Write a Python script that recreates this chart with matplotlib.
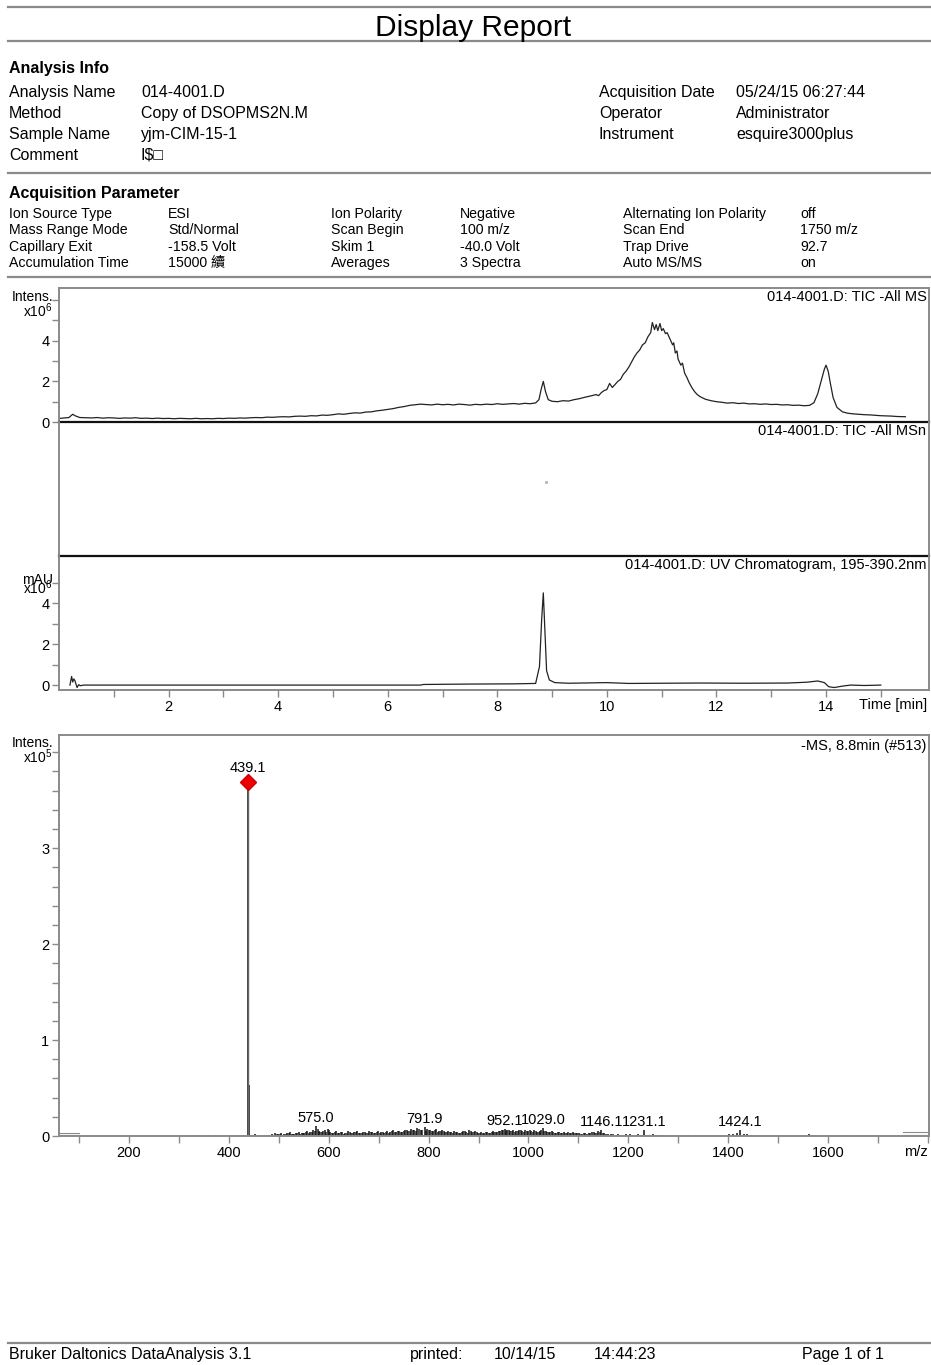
import numpy as np
import matplotlib
matplotlib.use("Agg")
import matplotlib.pyplot as plt
from matplotlib.ticker import MultipleLocator, FixedLocator

plt.rcParams['font.family'] = ['Liberation Sans', 'Noto Sans CJK SC', 'DejaVu Sans']
plt.rcParams['mathtext.fontset'] = 'custom'
plt.rcParams['mathtext.rm'] = 'Liberation Sans'
plt.rcParams['mathtext.default'] = 'regular'

W, H = 931, 1365
GRAY = '#8a8a8a'

# ---- report header values ----
info_left = [("Analysis Name", "014-4001.D"), ("Method", "Copy of DSOPMS2N.M"),
             ("Sample Name", "yjm-CIM-15-1"), ("Comment", "I$\u25a1")]
info_right = [("Acquisition Date", "05/24/15 06:27:44"), ("Operator", "Administrator"),
              ("Instrument", "esquire3000plus")]
acq_params = [
    ("Ion Source Type", "ESI", "Ion Polarity", "Negative", "Alternating Ion Polarity", "off"),
    ("Mass Range Mode", "Std/Normal", "Scan Begin", "100 m/z", "Scan End", "1750 m/z"),
    ("Capillary Exit", "-158.5 Volt", "Skim 1", "-40.0 Volt", "Trap Drive", "92.7"),
    ("Accumulation Time", "15000 \u7e8c", "Averages", "3 Spectra", "Auto MS/MS", "on"),
]

# ---- TIC -All MS (time in min, intensity x1e6) ----
tic_time = [0.02, 0.1, 0.18, 0.25, 0.3, 0.38, 0.5, 0.6, 0.7, 0.8, 0.9, 1.0, 1.1, 1.2, 1.3, 1.4,
            1.5, 1.6, 1.7, 1.8, 1.9, 2.0, 2.1, 2.2, 2.3, 2.4, 2.5, 2.6, 2.7, 2.8, 2.9, 3.0,
            3.1, 3.2, 3.3, 3.4, 3.5, 3.6, 3.7, 3.8, 3.9, 4.0, 4.1, 4.2, 4.3, 4.4, 4.5, 4.6,
            4.7, 4.8, 4.9, 5.0, 5.1, 5.2, 5.3, 5.4, 5.5, 5.6, 5.7, 5.8, 5.9, 6.0, 6.1, 6.2,
            6.3, 6.4, 6.5, 6.6, 6.7, 6.8, 6.9, 7.0, 7.1, 7.2, 7.3, 7.4, 7.5, 7.6, 7.7, 7.8,
            7.9, 8.0, 8.1, 8.2, 8.3, 8.4, 8.5, 8.6, 8.7, 8.76, 8.8, 8.84, 8.88, 8.93, 9.0,
            9.1, 9.2, 9.3, 9.4, 9.5, 9.6, 9.7, 9.8, 9.85, 9.9, 9.95, 10.0, 10.05, 10.1, 10.15,
            10.2, 10.25, 10.3, 10.35, 10.4, 10.45, 10.5, 10.55, 10.6, 10.65, 10.7, 10.75,
            10.8, 10.83, 10.87, 10.9, 10.93, 10.97, 11.0, 11.03, 11.07, 11.1, 11.15, 11.2,
            11.22, 11.25, 11.28, 11.3, 11.35, 11.38, 11.42, 11.46, 11.5, 11.55, 11.6, 11.65,
            11.7, 11.8, 11.9, 12.0, 12.1, 12.2, 12.3, 12.4, 12.5, 12.6, 12.7, 12.8, 12.9,
            13.0, 13.1, 13.2, 13.3, 13.4, 13.5, 13.6, 13.7, 13.78, 13.85, 13.92, 13.97, 14.0,
            14.04, 14.08, 14.13, 14.2, 14.3, 14.4, 14.5, 14.6, 14.7, 14.8, 14.9, 15.0, 15.1,
            15.2, 15.3, 15.45]
tic_int = [0.18, 0.2, 0.22, 0.38, 0.3, 0.22, 0.21, 0.2, 0.22, 0.19, 0.21, 0.2, 0.18, 0.2,
           0.19, 0.21, 0.18, 0.19, 0.17, 0.19, 0.17, 0.18, 0.16, 0.18, 0.17, 0.16, 0.18, 0.16,
           0.17, 0.16, 0.18, 0.17, 0.19, 0.18, 0.2, 0.19, 0.21, 0.22, 0.21, 0.24, 0.23, 0.25,
           0.26, 0.25, 0.28, 0.29, 0.28, 0.31, 0.3, 0.34, 0.33, 0.36, 0.4, 0.38, 0.42, 0.45,
           0.44, 0.49, 0.5, 0.55, 0.58, 0.62, 0.66, 0.72, 0.76, 0.82, 0.85, 0.88, 0.86, 0.84,
           0.88, 0.85, 0.87, 0.84, 0.88, 0.86, 0.83, 0.87, 0.85, 0.88, 0.86, 0.9, 0.87, 0.89,
           0.91, 0.88, 0.92, 0.9, 0.94, 1.1, 1.6, 2.0, 1.5, 1.1, 1.02, 1.0, 1.05, 1.03, 1.1,
           1.15, 1.22, 1.28, 1.35, 1.3, 1.45, 1.55, 1.6, 1.9, 1.7, 1.85, 2.0, 2.1, 2.35, 2.5,
           2.7, 2.95, 3.2, 3.4, 3.55, 3.8, 3.9, 4.2, 4.4, 4.9, 4.55, 4.8, 4.5, 4.85, 4.5, 4.6,
           4.35, 4.4, 4.1, 3.8, 3.9, 3.4, 3.5, 3.1, 2.8, 2.9, 2.4, 2.2, 1.95, 1.7, 1.5, 1.35,
           1.25, 1.12, 1.05, 1.0, 0.97, 0.93, 0.95, 0.91, 0.93, 0.89, 0.9, 0.87, 0.89, 0.86,
           0.87, 0.84, 0.85, 0.82, 0.83, 0.8, 0.82, 0.95, 1.4, 2.1, 2.6, 2.8, 2.5, 1.9, 1.2,
           0.72, 0.5, 0.43, 0.4, 0.38, 0.36, 0.35, 0.33, 0.31, 0.3, 0.29, 0.27, 0.26]

# ---- TIC -All MSn (one stray point) ----
msn_time = [8.89]
msn_int = [0.55]

# ---- UV chromatogram 195-390.2 nm (mAU x1e6) ----
uv_time = [0.2, 0.23, 0.25, 0.27, 0.29, 0.31, 0.33, 0.36, 0.39, 0.45, 3.0, 6.6, 6.65, 7.5, 8.3,
           8.7, 8.77, 8.81, 8.84, 8.87, 8.9, 8.95, 9.05, 9.3, 10.0, 10.4, 11.0, 11.7, 12.5,
           13.3, 13.65, 13.85, 13.97, 14.05, 14.15, 14.3, 14.45, 14.7, 15.0]
uv_int = [0.0, 0.42, 0.15, 0.3, 0.22, 0.05, -0.12, 0.02, -0.03, 0.0, 0.0, 0.0, 0.03, 0.05,
          0.06, 0.08, 0.9, 3.2, 4.5, 2.6, 0.7, 0.25, 0.12, 0.09, 0.12, 0.08, 0.09, 0.1, 0.09,
          0.1, 0.14, 0.2, 0.12, -0.08, -0.12, -0.05, 0.0, -0.02, 0.0]

# ---- MS spectrum -MS, 8.8 min (#513): labelled and stronger sticks ----
ms_mz = [341, 358, 372, 391, 402, 418, 431, 439.1, 440.1, 446, 452, 461, 470, 478,
         486, 493, 499, 505, 511, 517, 523, 529, 534, 540, 546, 551, 557, 563, 569, 575.0,
         580, 586, 592, 598, 603, 609, 615, 621, 627, 633, 639, 645, 651, 657, 663, 669,
         675, 681, 687, 693, 699, 705, 711, 717, 723, 729, 735, 741, 747, 753, 759, 765,
         771, 777, 784, 791.9, 797, 803, 809, 815, 821, 827, 833, 839, 845, 851, 857, 863,
         869, 875, 881, 887, 893, 899, 905, 911, 917, 923, 929, 935, 941, 947, 952.1, 958,
         964, 970, 976, 982, 988, 994, 1000, 1006, 1012, 1018, 1023, 1029.0, 1035, 1041,
         1047, 1053, 1059, 1065, 1071, 1077, 1083, 1089, 1095, 1101, 1108, 1114, 1121,
         1127, 1134, 1140, 1146.1, 1152, 1159, 1166, 1173, 1180, 1188, 1196, 1204, 1212,
         1220, 1231.1, 1240, 1249, 1258, 1266, 1281, 1302, 1311, 1320, 1334, 1347, 1365,
         1378, 1390, 1401, 1410, 1417, 1424.1, 1431, 1438, 1446, 1455, 1470, 1483, 1503,
         1528, 1548, 1562, 1571, 1591, 1608, 1630, 1665, 1683, 1700, 1720]
ms_int = [1000, 800, 1000, 800, 1200, 800, 1000, 369000, 53000, 1500, 2000, 1000, 1500, 1000,
          2000, 3000, 2500, 3500, 2000, 3000, 4000, 2500, 3000, 4500, 3000, 3500, 5000, 4000,
          6000, 10000, 5000, 4000, 6000, 7500, 4000, 3500, 5000, 3000, 4000, 3000, 5000,
          3500, 4000, 5500, 3000, 4000, 3500, 5000, 4000, 3000, 5000, 4000, 3500, 5000,
          4500, 6000, 4000, 5500, 4000, 6000, 5000, 7000, 6000, 8000, 6500, 9000, 7000,
          6000, 5000, 7000, 5500, 6500, 4000, 5000, 4000, 5500, 4000, 3500, 5000, 4000,
          6000, 4500, 5000, 3500, 4000, 3000, 4500, 3500, 5000, 4000, 5500, 6000, 7500,
          6500, 5000, 6000, 5000, 6500, 5000, 6000, 5000, 5500, 6000, 4500, 5000, 8000,
          5000, 4500, 5000, 3500, 4000, 3000, 4500, 3500, 3000, 4000, 3000, 3500, 2500,
          3000, 3500, 4000, 3000, 5000, 6000, 3000, 2500, 2000, 1500, 2000, 1500, 2500,
          2000, 1500, 2000, 6000, 1500, 2000, 1500, 1000, 1000, 1500, 1200, 1000, 1500,
          1000, 1500, 1000, 1500, 2000, 2500, 3000, 6000, 2500, 2000, 1500, 1000, 800, 1500,
          800, 1000, 800, 2500, 1000, 800, 1000, 800, 800, 1000, 1500, 800]

# ---- weaker sticks between the ones above ----
ms_mz_weak = [489, 496, 502, 508, 514, 520, 526, 531, 537, 543, 549, 554, 560, 566, 572, 578,
              583, 589, 595, 601, 606, 612, 618, 624, 630, 636, 642, 648, 654, 660, 666, 672,
              678, 684, 690, 696, 702, 708, 714, 720, 726, 732, 738, 744, 750, 756, 762, 768,
              774, 780, 787, 794, 800, 806, 812, 818, 824, 830, 836, 842, 848, 854, 860, 866,
              872, 878, 884, 890, 896, 902, 908, 914, 920, 926, 932, 938, 944, 950, 955, 961,
              967, 973, 979, 985, 991, 997, 1003, 1009, 1015, 1021, 1026, 1032, 1038, 1044,
              1050, 1056, 1062, 1068, 1074, 1080, 1086, 1092, 1098, 1104, 1111, 1117, 1124,
              1131, 1137, 1143, 1149, 1156, 1162, 1169, 1176, 1184, 1192, 1200, 1208, 1216,
              1226, 1235, 1244, 1253, 1262]
ms_int_weak = [1500, 2000, 2500, 1500, 2000, 3000, 2000, 2500, 3500, 2000, 3000, 4000, 3000,
               4500, 5000, 7000, 4000, 5000, 4500, 6000, 3000, 4000, 3500, 4000, 2500, 3500,
               4000, 3000, 4500, 3500, 3000, 4500, 3000, 4000, 3500, 4500, 3000, 4000, 4500,
               3500, 5000, 4000, 5000, 4500, 5000, 6000, 5000, 6500, 5500, 7500, 6000, 5000,
               6500, 5500, 6000, 4500, 5000, 5500, 4000, 4500, 3500, 4500, 3000, 4000, 5000,
               3500, 5000, 4000, 4500, 3000, 3500, 4000, 3000, 4000, 4500, 4000, 5000, 6500,
               5000, 6000, 5500, 4500, 5500, 6000, 4500, 5500, 6000, 4500, 5000, 4000, 6000,
               5500, 4000, 4500, 4000, 3500, 4000, 3000, 3500, 4000, 3000, 3500, 3000, 2500,
               3000, 2500, 3000, 4000, 3500, 4000, 3000, 2000, 1500, 2000, 1500, 1000, 1500,
               1000, 1500, 1000, 1500, 1500, 1000, 1500, 1000]

ms_labels = [439.1, 575.0, 791.9, 952.1, 1029.0, 1146.1, 1231.1, 1424.1]
scan_range = [100, 1750]


def px_box(left, top, right, bottom):
    return [left / W, 1 - bottom / H, (right - left) / W, (bottom - top) / H]


def fig_text(x, y, s, fontsize=11.5, **kw):
    # y is the middle of the capitals; place on the baseline so rows line up
    base = y + 0.358 * fontsize * 100 / 72
    fig.text(x / W, 1 - base / H, s, va='baseline', fontsize=fontsize, **kw)


def hline(y, x0=8, x1=931, color=GRAY, lw=1.6):
    fig.add_artist(plt.Line2D([x0 / W, x1 / W], [1 - y / H, 1 - y / H], color=color, lw=lw))


def style_axes(ax):
    for sp in ax.spines.values():
        sp.set_color(GRAY)
        sp.set_linewidth(1.4)
    ax.tick_params(which='both', direction='out', color=GRAY, labelsize=10.5,
                   labelcolor='black', width=1.0)
    ax.tick_params(which='major', length=5, pad=2)
    ax.tick_params(which='minor', length=5)


fig = plt.figure(figsize=(W / 100, H / 100), dpi=100)

# header
hline(7)
fig_text(473, 25, "Display Report", fontsize=21.5, ha='center')
hline(41)
fig_text(9, 67, "Analysis Info", fontweight='bold')
for i, (k, v) in enumerate(info_left):
    y = 91 + i * 21
    fig_text(9, y, k)
    fig_text(141, y, v)
for i, (k, v) in enumerate(info_right):
    y = 91 + i * 21
    fig_text(599, y, k)
    fig_text(736, y, v)
hline(173)
fig_text(9, 192, "Acquisition Parameter", fontweight='bold')
col_x = [9, 168, 331, 460, 623, 800]
for i, row in enumerate(acq_params):
    y = 213 + i * 16.3
    for cx, s in zip(col_x, row):
        fig_text(cx, y, s, fontsize=10.2)
hline(277)

# chromatogram panels
ax_tic = fig.add_axes(px_box(59, 288, 929, 422))
ax_msn = fig.add_axes(px_box(59, 422, 929, 556), sharex=ax_tic)
ax_uv = fig.add_axes(px_box(59, 556, 929, 690), sharex=ax_tic)
for ax in (ax_tic, ax_msn, ax_uv):
    style_axes(ax)
    ax.set_facecolor('none')

ax_tic.plot(tic_time, tic_int, color='#222222', lw=0.9)
ax_tic.set_xlim(0, 15.88)
ax_tic.set_ylim(0, 6.6)
ax_tic.yaxis.set_major_locator(FixedLocator([0, 2, 4]))
ax_tic.yaxis.set_minor_locator(FixedLocator([1, 3, 5, 6]))
ax_tic.spines['bottom'].set_color('#111111')
ax_tic.spines['bottom'].set_linewidth(1.6)
ax_tic.tick_params(axis='x', which='both', bottom=False, labelbottom=False)
ax_tic.text(0.997, 0.985, "014-4001.D: TIC -All MS", transform=ax_tic.transAxes,
            ha='right', va='top', fontsize=10.5)

ax_msn.plot(msn_time, msn_int, 's', color='#bbbbbb', ms=1.2)
ax_msn.set_ylim(0, 1)
ax_msn.set_yticks([])
ax_msn.spines['top'].set_visible(False)
ax_msn.spines['bottom'].set_color('#111111')
ax_msn.spines['bottom'].set_linewidth(1.6)
ax_msn.tick_params(axis='x', which='both', bottom=False, labelbottom=False)
ax_msn.text(0.997, 0.985, "014-4001.D: TIC -All MSn", transform=ax_msn.transAxes,
            ha='right', va='top', fontsize=10.5)

ax_uv.plot(uv_time, uv_int, color='#222222', lw=0.9)
ax_uv.set_ylim(-0.24, 6.3)
ax_uv.spines['top'].set_visible(False)
ax_uv.yaxis.set_major_locator(FixedLocator([0, 2, 4]))
ax_uv.yaxis.set_minor_locator(FixedLocator([1, 3, 5]))
ax_uv.xaxis.set_major_locator(FixedLocator([2, 4, 6, 8, 10, 12, 14]))
ax_uv.xaxis.set_minor_locator(FixedLocator([1, 3, 5, 7, 9, 11, 13, 15]))
ax_uv.text(0.997, 0.985, "014-4001.D: UV Chromatogram, 195-390.2nm",
           transform=ax_uv.transAxes, ha='right', va='top', fontsize=10.5)

fig_text(53, 296, "Intens.", fontsize=10, ha='right')
fig_text(53, 312, "x10$^{6}$", fontsize=10, ha='right')
# unit label and exponent share the same corner
fig_text(53, 579, "mAU", fontsize=10, ha='right')
fig_text(53, 589, "x10$^{6}$", fontsize=10, ha='right')
fig_text(927, 704, "Time [min]", fontsize=10.5, ha='right')

# mass spectrum
ax_ms = fig.add_axes(px_box(59, 735, 929, 1136))
style_axes(ax_ms)
ms_mz_a = np.array(ms_mz)
ms_int_a = np.array(ms_int) / 1e5
ax_ms.vlines(ms_mz_weak, 0, np.array(ms_int_weak) / 1e5, color='#222222', lw=1.1)
ax_ms.vlines(ms_mz_a, 0, ms_int_a, color='#111111', lw=1.1)
ax_ms.set_xlim(60, 1802)
ax_ms.set_ylim(0, 4.18)
ax_ms.xaxis.set_major_locator(FixedLocator([200, 400, 600, 800, 1000, 1200, 1400, 1600]))
ax_ms.xaxis.set_minor_locator(FixedLocator([100, 300, 500, 700, 900, 1100, 1300, 1500,
                                            1700, 1800]))
ax_ms.yaxis.set_major_locator(FixedLocator([0, 1, 2, 3]))
ax_ms.yaxis.set_minor_locator(MultipleLocator(0.2))

# scan range markers
ax_ms.plot([60, scan_range[0]], [0.035, 0.035], color=GRAY, lw=0.8)
ax_ms.plot([60, scan_range[0]], [0.015, 0.015], color=GRAY, lw=0.8)
ax_ms.plot([scan_range[1], 1802], [0.04, 0.04], color=GRAY, lw=0.8)
ax_ms.plot([scan_range[1], 1802], [0.015, 0.015], color=GRAY, lw=0.8)

lookup = dict(zip(ms_mz, ms_int_a))
base_peak = ms_labels[0]
ax_ms.vlines([base_peak], 0, [lookup[base_peak]], color='#666666', lw=1.0)
ax_ms.plot([base_peak], [lookup[base_peak]], 'D', color='#ee0000', ms=8, mec='#cc0000')
for m in ms_labels:
    off = 7 if m == base_peak else 3
    ax_ms.annotate(f"{m:.1f}", (m, lookup[m]), xytext=(0, off), textcoords='offset points',
                   ha='center', va='baseline', fontsize=10.5)
ax_ms.text(0.997, 0.99, "-MS, 8.8min (#513)", transform=ax_ms.transAxes,
           ha='right', va='top', fontsize=10.5)

fig_text(53, 742, "Intens.", fontsize=10, ha='right')
fig_text(53, 758, "x10$^{5}$", fontsize=10, ha='right')
fig_text(916, 1151, "m/z", fontsize=10.5, ha='center')

# footer
hline(1343)
fig_text(9, 1353, "Bruker Daltonics DataAnalysis 3.1")
fig_text(410, 1353, "printed:")
fig_text(494, 1353, "10/14/15")
fig_text(594, 1353, "14:44:23")
fig_text(802, 1353, "Page 1 of 1")

fig.savefig("out.png", dpi=100, facecolor='white')
